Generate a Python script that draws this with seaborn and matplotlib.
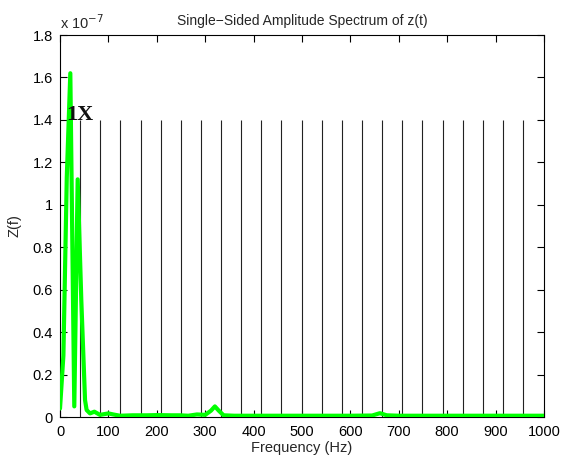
import matplotlib
matplotlib.use("Agg")
import matplotlib.pyplot as plt
import seaborn as sns
import numpy as np
from matplotlib.ticker import FuncFormatter, MultipleLocator

# ---- data (values in units of the real amplitude) ----
freq_hz = [0, 7, 14, 21.3, 29.5, 36.5, 44, 51.7, 55, 62, 71, 82.6, 100, 110, 124,
           150, 180, 200, 230, 248, 265, 283, 300, 312, 320, 328, 338, 360,
           400, 500, 600, 645, 661, 675, 700, 800, 900, 1000]
amp_e7 = [0.04, 0.29, 1.13, 1.62, 0.05, 1.12, 0.55, 0.08, 0.033, 0.017, 0.025, 0.01,
          0.017, 0.012, 0.006, 0.008, 0.008, 0.009, 0.008, 0.008, 0.006, 0.012, 0.01,
          0.03, 0.05, 0.03, 0.008, 0.006, 0.006, 0.006, 0.006, 0.007, 0.018, 0.008,
          0.006, 0.006, 0.006, 0.006]
amplitude = [a * 1e-7 for a in amp_e7]

base_freq_hz = 41.6
harmonic_orders = list(range(1, 24))
harmonic_height = 1.4e-7
harmonic_label = "1X"

title = "Single\u2212Sided Amplitude Spectrum of z(t)"
xlabel = "Frequency (Hz)"
ylabel = "Z(f)"

# ---- plotting ----
sns.set_style("ticks")
plt.rcParams["font.family"] = ["Liberation Sans", "DejaVu Sans"]

fig = plt.figure(figsize=(5.64, 4.55), dpi=100)
ax = fig.add_axes([0.1064, 0.0835, 0.8581, 0.8395])

harm_freqs = [k * base_freq_hz for k in harmonic_orders]
ax.vlines(harm_freqs, 0, harmonic_height, color="#222222", lw=0.8, zorder=1)

sns.lineplot(x=freq_hz, y=amplitude, ax=ax, color="#00ff00", lw=3, zorder=3,
             estimator=None, sort=False)

ax.text(harm_freqs[0], harmonic_height, harmonic_label, ha="center", va="baseline",
        fontsize=16, fontweight="bold", family=["Liberation Serif", "DejaVu Serif"],
        color="#111111", zorder=4)

ax.set_xlim(0, 1000)
ax.set_ylim(0, 1.8e-7)
ax.xaxis.set_major_locator(MultipleLocator(100))
ax.yaxis.set_major_locator(MultipleLocator(0.2e-7))
ax.yaxis.set_major_formatter(FuncFormatter(lambda v, p: f"{round(v / 1e-7, 2):g}"))

ax.tick_params(direction="in", top=True, right=True, length=5, width=0.8,
               labelsize=10.5, colors="black")
ax.tick_params(axis="x", pad=6)
ax.tick_params(axis="y", pad=5)
for s in ax.spines.values():
    s.set_visible(True)
    s.set_linewidth(0.8)
    s.set_color("black")

ax.set_title(title, fontsize=10, pad=7)
ax.set_xlabel(xlabel, fontsize=10.5, labelpad=1.5)
ax.set_ylabel(ylabel, fontsize=10.5, labelpad=8)
ax.text(0.0, 1.008, "x 10$^{-7}$", transform=ax.transAxes, ha="left", va="bottom",
        fontsize=10.5)

fig.savefig("out.png", dpi=100)
